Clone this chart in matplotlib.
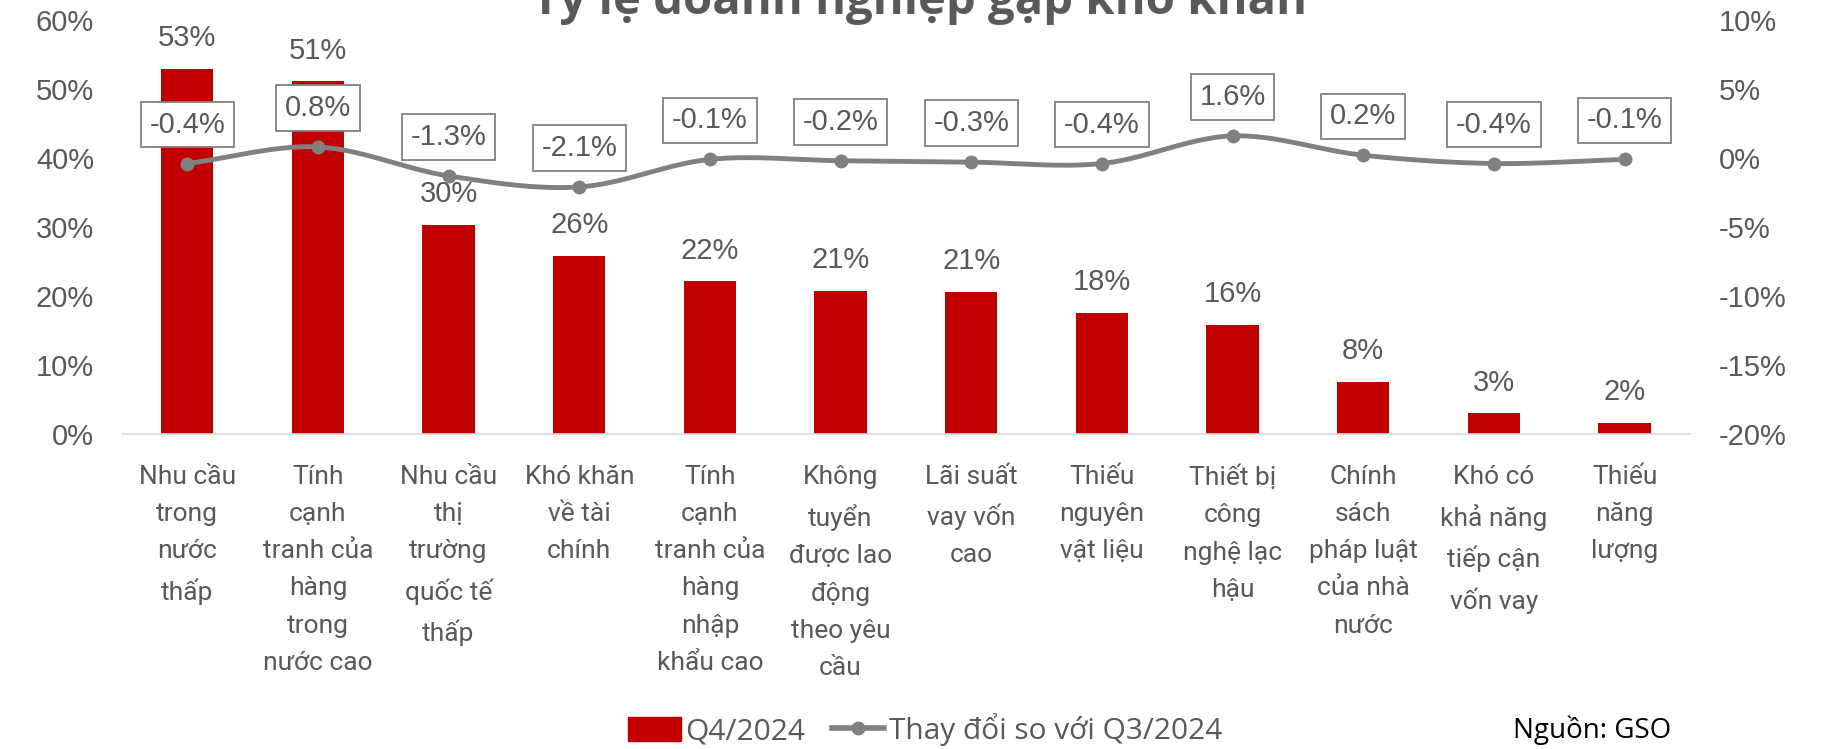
import numpy as np
import matplotlib
matplotlib.use("Agg")
import matplotlib.pyplot as plt
from matplotlib.ticker import FuncFormatter
from matplotlib.patches import Patch
from matplotlib.lines import Line2D

plt.rcParams["font.family"] = ["Liberation Sans", "DejaVu Sans"]
plt.rcParams["axes.unicode_minus"] = False
LABEL_FONT = ["Open Sans", "DejaVu Sans"]
CAT_FONT = ["Roboto", "DejaVu Sans"]

categories = [
    "Nhu cầu\ntrong\nnước\nthấp",
    "Tính\ncạnh\ntranh của\nhàng\ntrong\nnước cao",
    "Nhu cầu\nthị\ntrường\nquốc tế\nthấp",
    "Khó khăn\nvề tài\nchính",
    "Tính\ncạnh\ntranh của\nhàng\nnhập\nkhẩu cao",
    "Không\ntuyển\nđược lao\nđộng\ntheo yêu\ncầu",
    "Lãi suất\nvay vốn\ncao",
    "Thiếu\nnguyên\nvật liệu",
    "Thiết bị\ncông\nnghệ lạc\nhậu",
    "Chính\nsách\npháp luật\ncủa nhà\nnước",
    "Khó có\nkhả năng\ntiếp cận\nvốn vay",
    "Thiếu\nnăng\nlượng",
]
q4_2024 = [0.529, 0.511, 0.303, 0.258, 0.221, 0.207, 0.206, 0.176, 0.158, 0.076, 0.030, 0.016]
change_vs_q3 = [-0.004, 0.008, -0.013, -0.021, -0.001, -0.002, -0.003, -0.004, 0.016, 0.002, -0.004, -0.001]

RED = "#C00000"
GRAY = "#808080"
TXT = "#595959"
FS = 21


def smooth(xs, ys, n=30):
    # catmull-rom curve through the points, like Excel's smoothed line
    xs = np.asarray(xs, float)
    ys = np.asarray(ys, float)
    px = np.concatenate([[2 * xs[0] - xs[1]], xs, [2 * xs[-1] - xs[-2]]])
    py = np.concatenate([[2 * ys[0] - ys[1]], ys, [2 * ys[-1] - ys[-2]]])
    outx, outy = [], []
    t = np.linspace(0, 1, n)
    for i in range(1, len(px) - 2):
        for p, out in ((px, outx), (py, outy)):
            p0, p1, p2, p3 = p[i - 1], p[i], p[i + 1], p[i + 2]
            out.extend(0.5 * (2 * p1 + (-p0 + p2) * t
                              + (2 * p0 - 5 * p1 + 4 * p2 - p3) * t ** 2
                              + (-p0 + 3 * p1 - 3 * p2 + p3) * t ** 3))
    return np.array(outx), np.array(outy)


pct = FuncFormatter(lambda v, _: f"{round(v * 100):d}%")

fig = plt.figure(figsize=(18.25, 7.49), dpi=100)
ax = fig.add_axes([0.0668, 0.4206, 0.8592, 0.5527])
ax2 = ax.twinx()

x = np.arange(len(categories))
ax.bar(x, q4_2024, width=0.4, color=RED, zorder=2)
for xi, v in zip(x, q4_2024):
    ax.annotate(f"{v:.0%}", (xi, v), xytext=(0, 12), textcoords="offset points",
                ha="center", va="bottom", fontsize=FS, color=TXT)

ax.set_xlim(-0.5, len(categories) - 0.5)
ax.set_ylim(0, 0.6)
ax.set_yticks(np.arange(0, 0.61, 0.1))
ax.yaxis.set_major_formatter(pct)
ax.set_xticks(x)
ax.set_xticklabels(categories, fontsize=19, color=TXT, linespacing=1.7, family=CAT_FONT)
ax.tick_params(axis="x", length=0, pad=22)
ax.tick_params(axis="y", length=0, pad=20, labelsize=FS, labelcolor=TXT)
for s in ["top", "right", "left"]:
    ax.spines[s].set_visible(False)
ax.spines["bottom"].set_color("#D9D9D9")
ax.spines["bottom"].set_linewidth(1.2)

sx, sy = smooth(x, change_vs_q3)
ax2.plot(sx, sy, color=GRAY, lw=3.5, solid_capstyle="round", zorder=3)
ax2.plot(x, change_vs_q3, "o", color=GRAY, ms=9, zorder=4)
for xi, v in zip(x, change_vs_q3):
    ax2.annotate(f"{v:.1%}", (xi, v), xytext=(0, 28), textcoords="offset points",
                 ha="center", va="center", fontsize=FS, color=TXT,
                 bbox=dict(boxstyle="square,pad=0.3", fc="white", ec=GRAY, lw=1.3))
ax2.set_ylim(-0.2, 0.1)
ax2.set_yticks(np.arange(-0.2, 0.101, 0.05))
ax2.yaxis.set_major_formatter(pct)
ax2.tick_params(axis="y", length=0, pad=21, labelsize=FS, labelcolor=TXT)
for s in ["top", "right", "left", "bottom"]:
    ax2.spines[s].set_visible(False)

fig.text(0.504, 1 - 14 / 749, "Tỷ lệ doanh nghiệp gặp khó khăn", ha="center",
         va="baseline", fontsize=34, fontweight="bold", color=TXT, family=LABEL_FONT)

handles = [Patch(color=RED, label="Q4/2024"),
           Line2D([0], [0], color=GRAY, lw=4, marker="o", ms=9, label="Thay đổi so với Q3/2024")]
fig.legend(handles=handles, loc="center", bbox_to_anchor=(0.507, 1 - 730 / 749), ncol=2,
           frameon=False, prop={"family": LABEL_FONT, "size": 21.5}, labelcolor=TXT,
           handlelength=1.75, handleheight=0.85, handletextpad=0.15, columnspacing=0.9)
fig.text(1513 / 1825, 1 - 730 / 749, "Nguồn: GSO", ha="left", va="center",
         fontsize=20, color="black", family=LABEL_FONT)

fig.savefig("out.png", dpi=100)
